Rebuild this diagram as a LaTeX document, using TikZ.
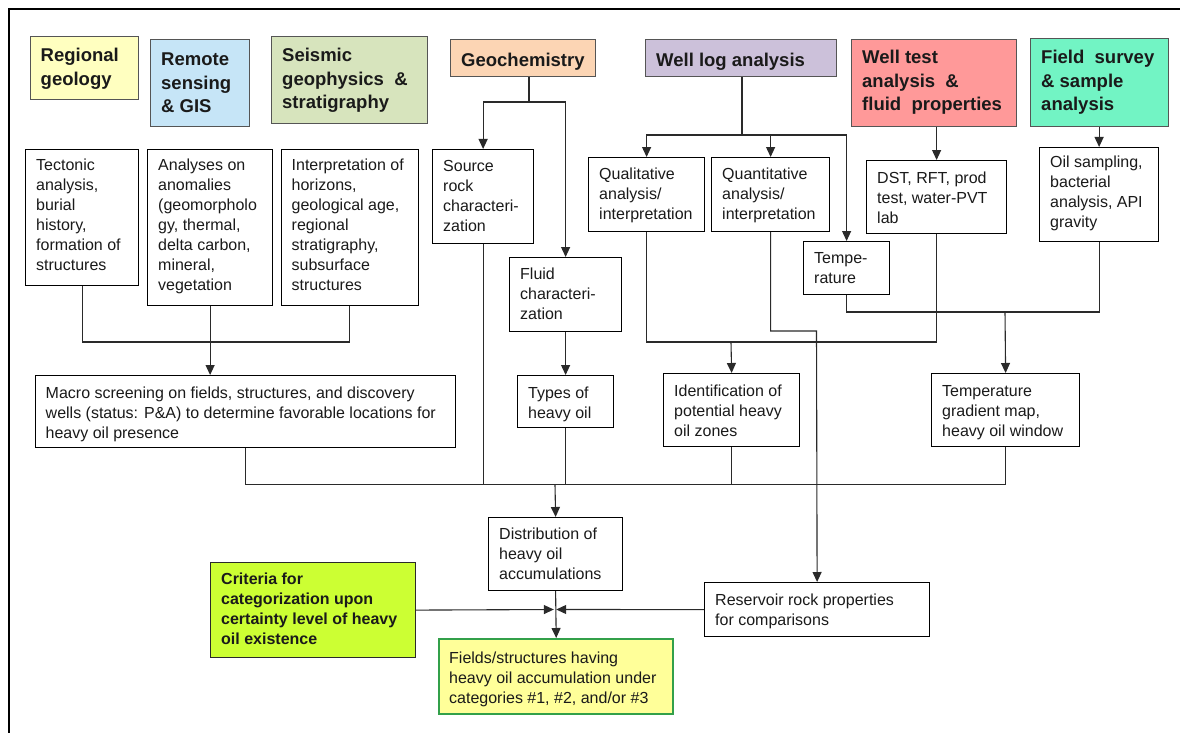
\documentclass[tikz,border=0pt]{standalone}
\usepackage{fontspec}
\setmainfont{Liberation Sans}
\usetikzlibrary{arrows.meta}
\definecolor{cRG}{HTML}{FFFFC0}
\definecolor{cRS}{HTML}{C6E5F7}
\definecolor{cSG}{HTML}{D7E4BD}
\definecolor{cGC}{HTML}{FCD5B4}
\definecolor{cWL}{HTML}{CCC1DA}
\definecolor{cWT}{HTML}{FF9999}
\definecolor{cFS}{HTML}{72F4C4}
\definecolor{cCR}{HTML}{CCFF33}
\definecolor{cFL}{HTML}{FFFF99}
\definecolor{cGR}{HTML}{33A04A}
\definecolor{cLN}{HTML}{2A2A2A}
\definecolor{cTX}{HTML}{1A1A1A}
\tikzset{
  hdr/.style={draw=cLN!80, line width=1.4pt},
  hdrt/.style={font=\fontsize{18.5}{23.5}\selectfont\bfseries, text=cTX},
  bod/.style={draw=black, line width=1.2pt, fill=white},
  bodt/.style={font=\fontsize{16}{20}\selectfont, text=cTX},
  crt/.style={draw=cLN, line width=1.2pt},
  crtt/.style={font=\fontsize{16}{20}\selectfont\bfseries, text=cTX},
  conn/.style={draw=cLN, line width=1.1pt},
  arr/.style={conn, -{Triangle[length=10pt,width=9pt]}}
}
% #1 style, #2 extra options, #3 name, #4 x1, #5 y1, #6 x2, #7 y2, #8 top padding, #9 text
\newcommand{\bx}[9]{%
  \node[#1, #2, anchor=north west, minimum width={#6-#4}, minimum height={#7-#5}, inner sep=0pt] (#3) at (#4,#5) {};
  \node[#1t, anchor=north west, inner sep=0pt] at ({#4+11},{#5+#8}) {\parbox[t]{400pt}{\raggedright #9}};
}
\begin{document}
\begin{tikzpicture}[x=1pt,y=-1pt]
\useasboundingbox (0,0) rectangle (1180,733);
\fill[white] (0,0) rectangle (1180,733);
\draw[line width=2pt, black] (9,733) -- (9,9.5) -- (1180,9.5);

% header boxes
\bx{hdr}{fill=cRG}{rg}{29.5}{36}{138}{99}{12}{Regional\\geology}
\bx{hdr}{fill=cRS}{rs}{150}{39}{249}{126}{14}{Remote\\sensing\\\& GIS}
\bx{hdr}{fill=cSG}{sg}{271}{36}{427}{123}{12}{Seismic\\geophysics \ \&\\stratigraphy}
\bx{hdr}{fill=cGC}{gc}{450}{39}{595}{76}{14}{Geochemistry}
\bx{hdr}{fill=cWL}{wl}{645}{39}{836}{76}{14}{Well log analysis}
\bx{hdr}{fill=cWT}{wt}{851}{39}{1016}{126}{11}{Well test\\analysis \ \&\\fluid \ properties}
\bx{hdr}{fill=cFS}{fs}{1030}{38}{1168}{126}{12}{Field \ survey\\\& sample\\analysis}

% second row
\bx{bod}{}{tec}{25}{149}{138}{285}{10}{Tectonic\\analysis,\\burial\\history,\\formation of\\structures}
\bx{bod}{}{ana}{147}{149}{272}{305}{10}{Analyses on\\anomalies\\(geomorpholo\\gy, thermal,\\delta carbon,\\mineral,\\vegetation}
\bx{bod}{}{int}{280.5}{149}{418}{305}{10}{Interpretation of\\horizons,\\geological age,\\regional\\stratigraphy,\\subsurface\\structures}
\bx{bod}{}{src}{432}{149}{533}{243}{11}{Source\\rock\\characteri-\\zation}
\bx{bod}{}{qual}{588}{157}{704}{231}{11}{Qualitative\\analysis/\\interpretation}
\bx{bod}{}{quant}{711}{157}{829}{231}{11}{Quantitative\\analysis/\\interpretation}
\bx{bod}{}{dst}{866}{160}{1006}{233}{12}{DST, RFT, prod\\test, water-PVT\\lab}
\bx{bod}{}{oil}{1039}{147}{1158}{241}{9}{Oil sampling,\\bacterial\\analysis, API\\gravity}
\bx{bod}{}{temp}{803}{241}{889}{294}{11}{Tempe-\\rature}
\bx{bod}{}{fluid}{509}{257}{621}{331}{11}{Fluid\\characteri-\\zation}

% third row
\bx{bod}{}{macro}{34.5}{375}{455}{447}{12}{Macro screening on fields, structures, and discovery\\wells (status: P\&A) to determine favorable locations for\\heavy oil presence}
\bx{bod}{}{types}{517}{375}{613}{427}{12}{Types of\\heavy oil}
\bx{bod}{}{ident}{663}{373}{799}{446}{12}{Identification of\\potential heavy\\oil zones}
\bx{bod}{}{tgm}{931}{373}{1079}{446}{12}{Temperature\\gradient map,\\heavy oil window}

% bottom
\bx{bod}{}{dist}{488}{517}{622}{590}{11}{Distribution of\\heavy oil\\accumulations}
\bx{crt}{fill=cCR}{crit}{210}{562}{415}{657}{11}{Criteria for\\categorization upon\\certainty level of heavy\\oil existence}
\bx{bod}{}{res}{704}{582}{929}{636}{12}{Reservoir rock properties\\for comparisons}
\bx{bod}{fill=cFL, draw=cGR, line width=2.4pt}{fld}{438}{638}{672}{713}{14}{Fields/structures having\\heavy oil accumulation under\\categories \#1, \#2, and/or \#3}

% junction coordinates
\coordinate (jg) at (529,102);
\coordinate (jw) at (742,135);
\coordinate (jm) at (209.5,342);
\coordinate (ji) at (731,342);
\coordinate (jtg) at (1005,312);
\coordinate (jq) at (816.5,331);
\coordinate (jb) at (555,484.5);
\coordinate (jc) at (555,609.5);

% geochemistry
\draw[conn] (gc.south -| jg) -- (jg);
\draw[arr] (jg) -| (src.north);
\draw[arr] (jg) -| (fluid.north);
\draw[arr] (fluid.south) -- (types.north);

% well log
\draw[conn] (wl.south -| jw) -- (jw);
\draw[arr] (jw) -| (qual.north);
\draw[arr] (jw) -| (quant.north);
\draw[arr] (jw) -| (temp.north);

% well test, field survey
\draw[arr] (wt.south -| dst.north) -- (dst.north);
\draw[arr] (fs.south -| oil.north) -- (oil.north);

% left group to macro
\draw[conn] (tec.south) |- (jm);
\draw[conn] (int.south) |- (jm);
\draw[arr] (ana.south) -- (ana.south |- macro.north);

% qualitative + DST to identification
\draw[conn] (qual.south) |- (ji);
\draw[conn] (dst.south) |- (ji);
\draw[arr] (ji) -- (ident.north);

% temperature + oil to temperature gradient
\draw[conn] (temp.south) |- (jtg);
\draw[conn] (oil.south) |- (jtg);
\draw[arr] (jtg) -- (tgm.north);

% quantitative to reservoir
\draw[arr] (quant.south) |- (jq) -- (res.north);

% collector to distribution
\draw[conn] (macro.south) |- (jb);
\draw[conn] (src.south) |- (jb);
\draw[conn] (types.south) |- (jb);
\draw[conn] (ident.south) |- (jb);
\draw[conn] (tgm.south) |- (jb);
\draw[arr] (jb) -- (dist.north);

% distribution, criteria, reservoir to fields
\draw[arr] (dist.south) -- (fld.north);
\draw[arr] (crit.east) -- ([xshift=-1.2pt]jc);
\draw[arr] (res.west) -- ([xshift=1.2pt]jc);
\end{tikzpicture}
\end{document}
